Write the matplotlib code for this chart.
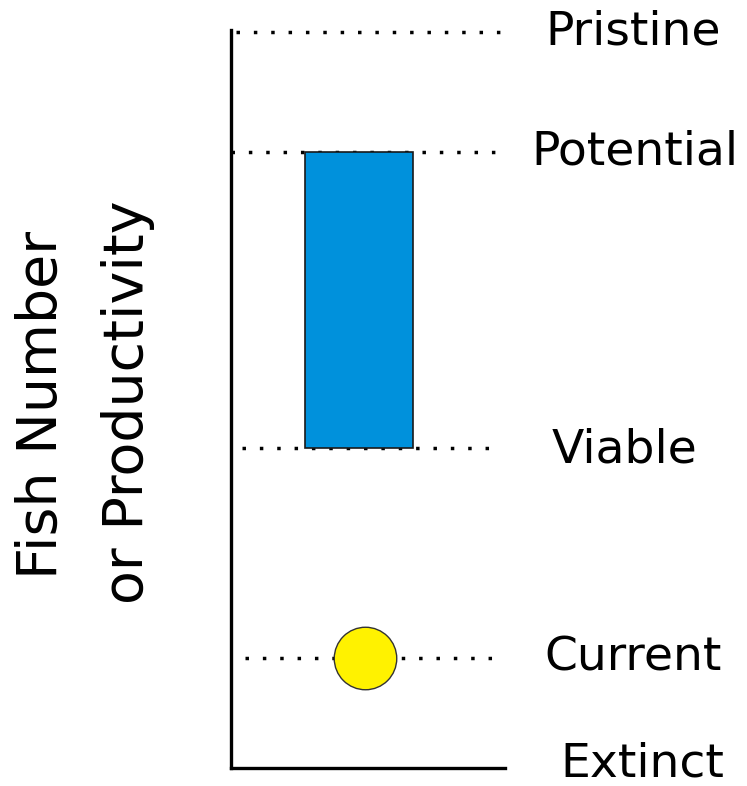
import matplotlib.pyplot as plt

# levels, measured from the bottom of the axis (extinct = 0)
levels = ["Pristine", "Potential", "Viable", "Current", "Extinct"]
level_values = [736, 616, 320, 110, 0]

# range between viable and potential shown as a bar
bar_low = 320
bar_high = 616

# current status shown as a dot
current_value = 110

fig = plt.figure(figsize=(7.47, 7.86), dpi=100)
ax = fig.add_axes([231 / 747, 18 / 786, 274 / 747, 738 / 786])
ax.set_xlim(0, 1)
ax.set_ylim(0, 738)

# dotted guide lines
line_spans = [(0.02, 0.99), (0.0, 0.97), (0.04, 0.99), (0.05, 1.0)]
for value, (x0, x1) in zip(level_values[:4], line_spans):
    ax.plot([x0, x1], [value, value], color="black", linestyle=(0, (1, 4.0)),
            linewidth=2.5, zorder=1)

ax.bar(0.467, bar_high - bar_low, bottom=bar_low, width=0.394,
       color="#0091dc", edgecolor="#1a1a1a", linewidth=1.2, zorder=2)

ax.plot(0.489, current_value, "o", markersize=45, markerfacecolor="#fff200",
        markeredgecolor="#333333", markeredgewidth=1.0, zorder=3)

# labels on the right
label_x = [633, 635, 625, 633, 642]
label_dy = [0, 0, -2, 0, 4]
for name, value, x, dy in zip(levels, level_values, label_x, label_dy):
    ax.text((x - 231) / 274, value + dy, name, fontsize=34, ha="center",
            va="center", family="DejaVu Sans", clip_on=False)

fig.text(42 / 747, 1 - 405 / 786, "Fish Number", rotation=90, fontsize=40,
         ha="center", va="center", family="DejaVu Sans")
fig.text(128 / 747, 1 - 402 / 786, "or Productivity", rotation=90, fontsize=40,
         ha="center", va="center", family="DejaVu Sans")

for side in ["top", "right"]:
    ax.spines[side].set_visible(False)
ax.spines["left"].set_linewidth(2.4)
ax.spines["bottom"].set_linewidth(2.4)
ax.set_xticks([])
ax.set_yticks([])

fig.savefig("out.png", dpi=100)
